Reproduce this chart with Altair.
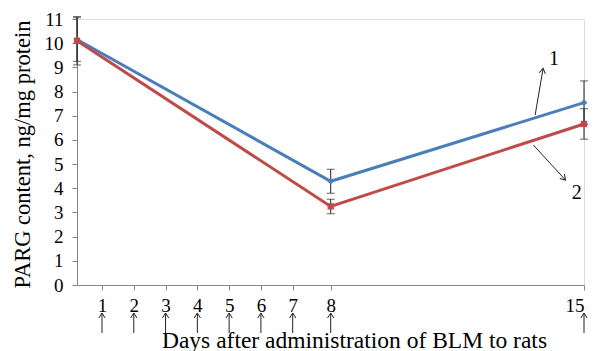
import altair as alt
import pandas as pd

# ---- data ----
days = [0, 8, 15]
series1 = [10.15, 4.29, 7.54]
err1 = [0.9, 0.5, 0.9]
series2 = [10.10, 3.25, 6.66]
err2 = [1.0, 0.3, 0.63]
tick_days = [1, 2, 3, 4, 5, 6, 7, 8, 15]
y_ticks = list(range(0, 12))

# annotation arrows (data coordinates)
ann_labels = ["1", "2"]
ann_x0 = [13.65, 13.60]
ann_y0 = [7.03, 5.79]
ann_x1 = [13.87, 14.49]
ann_y1 = [8.96, 4.34]
ann_tx = [14.17, 14.80]
ann_ty = [9.35, 3.79]
ann_angle = [10, 137]

BLUE = "#4A7EBB"
RED = "#BE4B48"
GRAY = "#868686"
FONT = "'Liberation Serif', 'Times New Roman', Times, serif"

rows = []
for name, vals, errs in [("1", series1, err1), ("2", series2, err2)]:
    for d, v, e in zip(days, vals, errs):
        rows.append({"series": name, "day": d, "value": v, "lo": v - e, "hi": v + e})
df = pd.DataFrame(rows)
ann = pd.DataFrame({"label": ann_labels, "x0": ann_x0, "y0": ann_y0, "x1": ann_x1,
                    "y1": ann_y1, "tx": ann_tx, "ty": ann_ty, "angle": ann_angle})
tdf = pd.DataFrame({"day": tick_days})

W, H = 507, 266
xscale = alt.Scale(domain=[0, 1, 7, 8, 15], range=[0, 25, 215.7, 253.7, W])
yscale = alt.Scale(domain=[0, 11])

xaxis = alt.Axis(values=tick_days, title="Days after administration of  BLM  to rats",
                 grid=False, tickSize=5, tickColor=GRAY, domainColor=GRAY, labelOverlap=False,
                 labelFont=FONT, labelFontSize=19, labelColor="#000", labelPadding=6,
                 titleFont=FONT, titleFontSize=23.5, titleFontWeight="normal", titleColor="#000",
                 titleX=277, titleY=67, titleAlign="center", titleBaseline="bottom")
yaxis = alt.Axis(values=y_ticks, title="PARG content, ng/mg protein", grid=False,
                 tickSize=5, tickColor=GRAY, domainColor=GRAY, labelOverlap=False,
                 labelFont=FONT, labelFontSize=19, labelColor="#000", labelPadding=9,
                 titleFont=FONT, titleFontSize=22.5, titleFontWeight="normal", titleColor="#000",
                 titleX=-55, titleY=135, titleAlign="center", titleBaseline="middle", titleAngle=270)


def xq(field):
    return alt.X(field, scale=xscale, axis=xaxis)


def yq(field):
    return alt.Y(field, scale=yscale, axis=yaxis)


base = alt.Chart(df)
color = alt.Color("series:N", scale=alt.Scale(domain=["1", "2"], range=[BLUE, RED]), legend=None)

lines = base.mark_line(strokeWidth=3).encode(x=xq("day:Q"), y=yq("value:Q"), color=color, order="day:Q")

err_rule = base.mark_rule(color="#222", strokeWidth=1).encode(
    x=xq("day:Q"), y=yq("lo:Q"), y2="hi:Q")
cap_lo = base.mark_tick(color="#222", orient="horizontal", size=8, thickness=1).encode(
    x=xq("day:Q"), y=yq("lo:Q"))
cap_hi = base.mark_tick(color="#222", orient="horizontal", size=8, thickness=1).encode(
    x=xq("day:Q"), y=yq("hi:Q"))

pts1 = alt.Chart(df[df.series == "1"]).mark_point(shape="diamond", filled=True, size=45, color=BLUE, opacity=1).encode(
    x=xq("day:Q"), y=yq("value:Q"))
pts2 = alt.Chart(df[df.series == "2"]).mark_point(shape="square", filled=True, size=40, color=RED, opacity=1).encode(
    x=xq("day:Q"), y=yq("value:Q"))

# annotation arrows
a_rule = alt.Chart(ann).mark_rule(color="#222", strokeWidth=1).encode(
    x=xq("x0:Q"), y=yq("y0:Q"), x2="x1:Q", y2="y1:Q")
a_head = alt.Chart(ann).mark_point(shape="M-1,1.6L0,0L1,1.6", filled=False, size=40,
                                   color="#222", strokeWidth=1, opacity=1).encode(
    x=xq("x1:Q"), y=yq("y1:Q"), angle=alt.Angle("angle:Q", scale=None))
a_text = alt.Chart(ann).mark_text(font=FONT, fontSize=20, color="#000").encode(
    x=xq("tx:Q"), y=yq("ty:Q"), text="label:N")

# arrows under tick labels
t_rule = alt.Chart(tdf).mark_rule(color="#222", strokeWidth=1, clip=False).encode(
    x=xq("day:Q"), y=alt.value(H + 28), y2=alt.value(H + 48))
t_head = alt.Chart(tdf).mark_point(shape="M-1,1.6L0,0L1,1.6", filled=False, size=40,
                                   color="#222", strokeWidth=1, opacity=1, clip=False).encode(
    x=xq("day:Q"), y=alt.value(H + 28))

chart = alt.layer(lines, err_rule, cap_lo, cap_hi, pts1, pts2, a_rule, a_head, a_text, t_rule, t_head).properties(
    width=W, height=H, autosize=alt.AutoSizeParams(type="none"),
    padding={"left": 77, "top": 19, "right": 14, "bottom": 66}
).configure_view(strokeWidth=0, strokeOpacity=0).configure(background="white")

chart.save("out.html", embed_options={"renderer": "svg", "actions": False})
